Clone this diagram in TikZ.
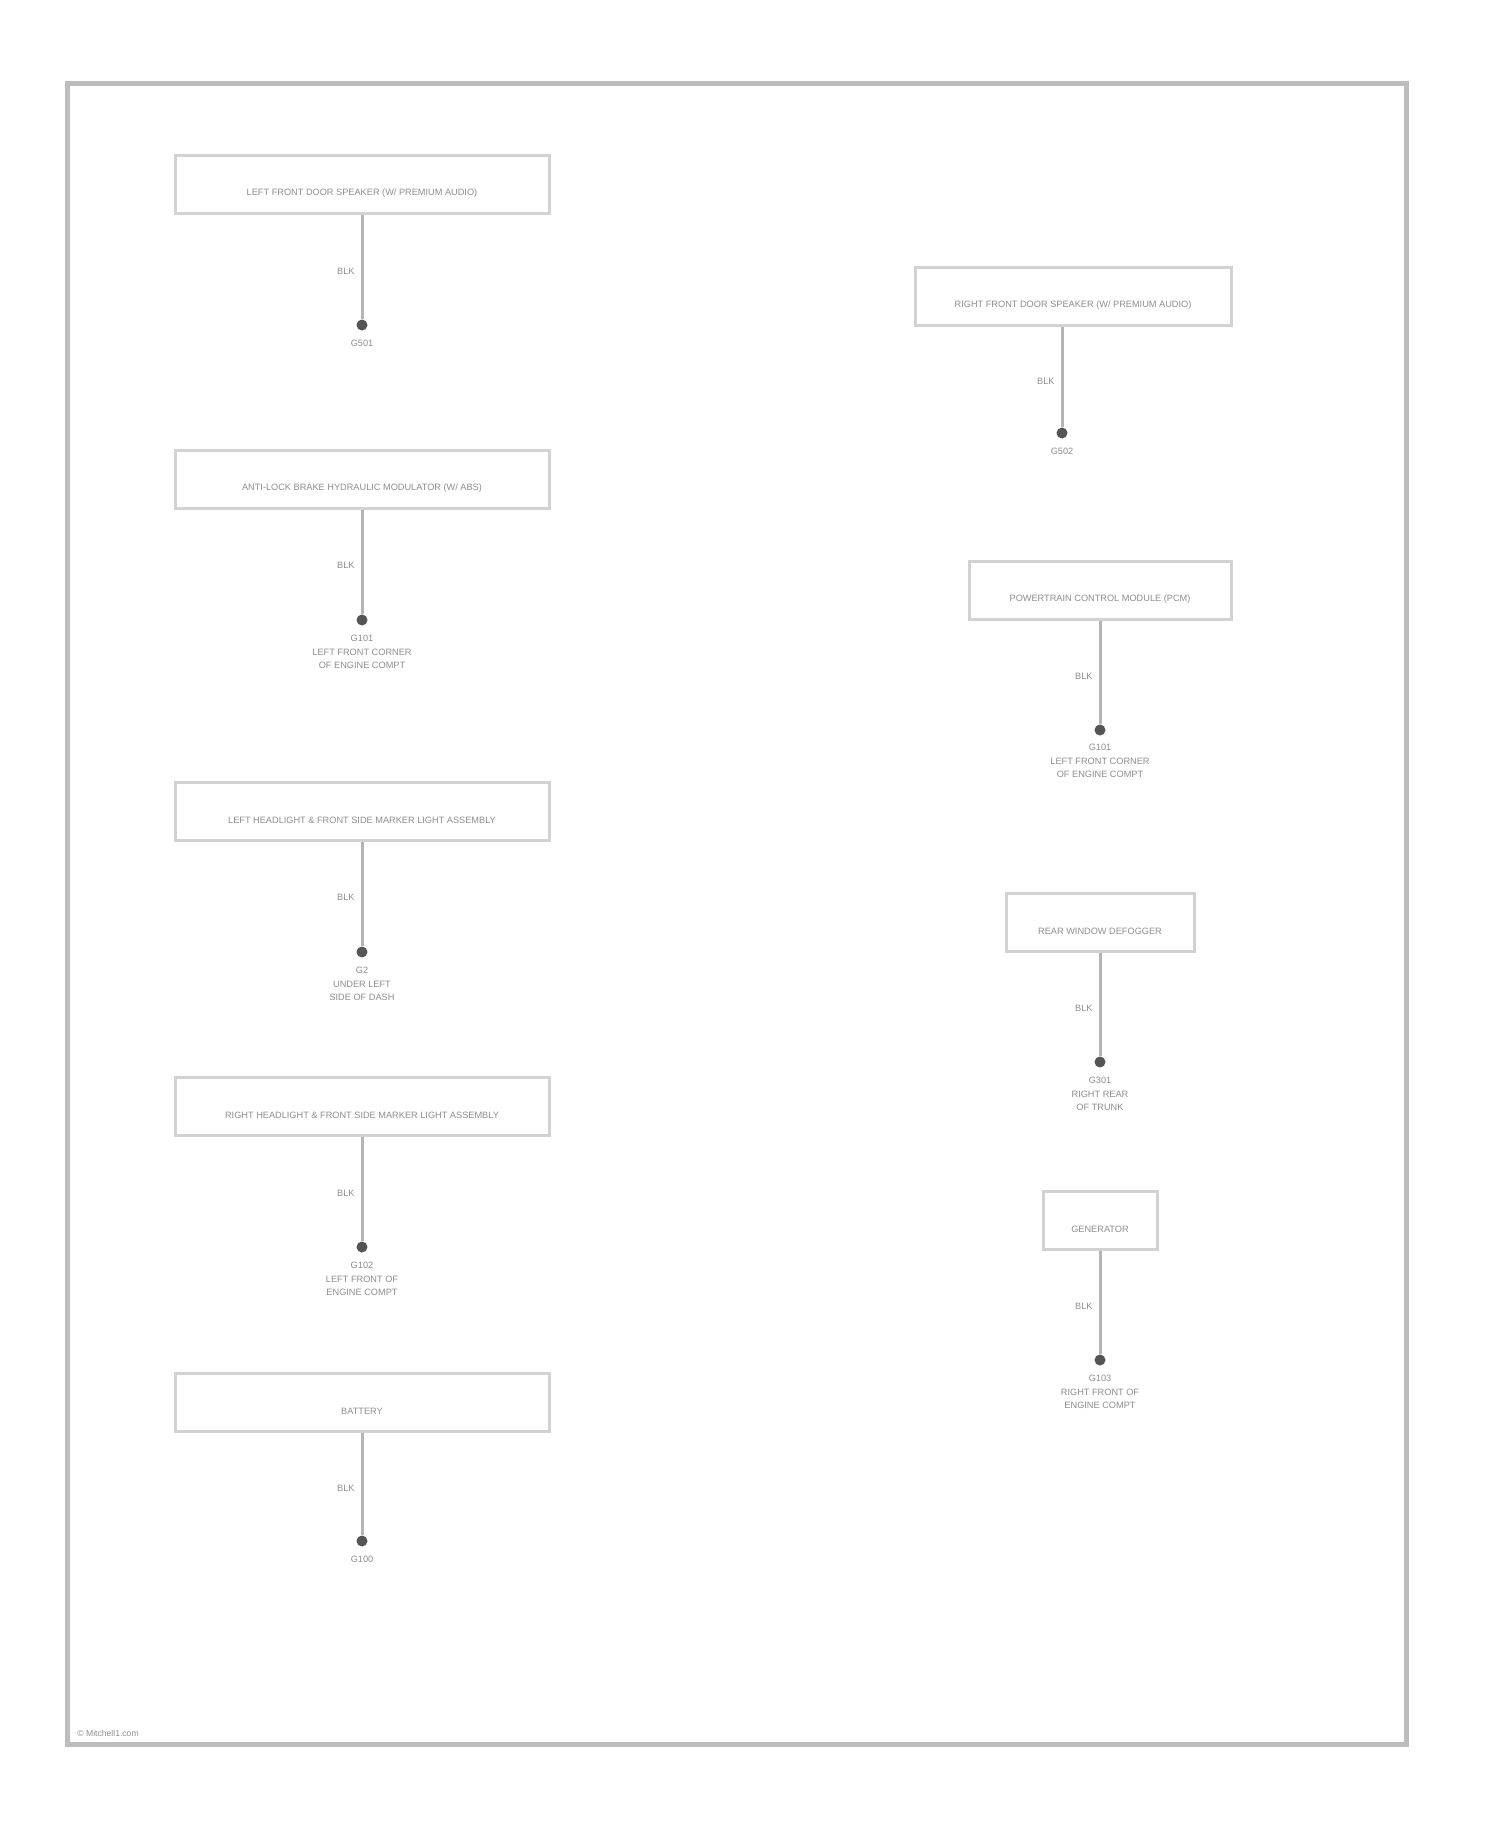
\documentclass[tikz,border=0pt]{standalone}
\usepackage{fontspec}
\setmainfont{Liberation Sans}
\definecolor{framec}{HTML}{BDBDBD}
\definecolor{boxc}{HTML}{D2D2D2}
\definecolor{wirec}{HTML}{B4B4B4}
\definecolor{dotc}{HTML}{555555}
\definecolor{txtc}{HTML}{8E8E8E}
\tikzset{
  compbox/.style={draw=boxc, line width=1.5pt, fill=white, inner sep=0pt, minimum height=29pt},
  comptxt/.style={text=txtc, font=\fontsize{4.6}{5.5}\selectfont, inner sep=0pt},
  wire/.style={draw=wirec, line width=1.5pt},
  gdot/.style={circle, fill=dotc, inner sep=0pt, minimum size=5.5pt},
  wlbl/.style={text=txtc, font=\fontsize{4.6}{5.5}\selectfont, inner sep=0pt, anchor=east},
  glbl/.style={text=txtc, font=\fontsize{4.6}{6.6}\selectfont, inner sep=0pt, anchor=north, align=center},
}
\begin{document}
\begin{tikzpicture}[x=0.5pt, y=-0.5pt]
\useasboundingbox (0,0) rectangle (1500,1828);
\fill[white] (0,0) rectangle (1500,1828);
\draw[framec, line width=2.5pt] (67,83) rectangle (1406,1744);

% ---------- left column ----------
\node[compbox, minimum width=187pt] (l1) at (362,184) {};
\node[comptxt] (l1t) at (362,193) {LEFT FRONT DOOR SPEAKER (W/ PREMIUM AUDIO)};
\node[gdot] (g1) at (362,325) {};
\draw[wire] (l1.south) -- (g1);
\node[wlbl] (w1) at (355,271) {BLK};
\node[glbl] (g1t) at (362,340) {G501};

\node[compbox, minimum width=187pt] (l2) at (362,479) {};
\node[comptxt] (l2t) at (362,488) {ANTI-LOCK BRAKE HYDRAULIC MODULATOR (W/ ABS)};
\node[gdot] (g2) at (362,620) {};
\draw[wire] (l2.south) -- (g2);
\node[wlbl] (w2) at (355,565) {BLK};
\node[glbl] (g2t) at (362,635) {G101\\LEFT FRONT CORNER\\OF ENGINE COMPT};

\node[compbox, minimum width=187pt] (l3) at (362,811) {};
\node[comptxt] (l3t) at (362,820) {LEFT HEADLIGHT \& FRONT SIDE MARKER LIGHT ASSEMBLY};
\node[gdot] (g3) at (362,952) {};
\draw[wire] (l3.south) -- (g3);
\node[wlbl] (w3) at (355,897) {BLK};
\node[glbl] (g3t) at (362,967) {G2\\UNDER LEFT\\SIDE OF DASH};

\node[compbox, minimum width=187pt] (l4) at (362,1106) {};
\node[comptxt] (l4t) at (362,1115) {RIGHT HEADLIGHT \& FRONT SIDE MARKER LIGHT ASSEMBLY};
\node[gdot] (g4) at (362,1247) {};
\draw[wire] (l4.south) -- (g4);
\node[wlbl] (w4) at (355,1193) {BLK};
\node[glbl] (g4t) at (362,1262) {G102\\LEFT FRONT OF\\ENGINE COMPT};

\node[compbox, minimum width=187pt] (l5) at (362,1402) {};
\node[comptxt] (l5t) at (362,1411) {BATTERY};
\node[gdot] (g5) at (362,1541) {};
\draw[wire] (l5.south) -- (g5);
\node[wlbl] (w5) at (355,1488) {BLK};
\node[glbl] (g5t) at (362,1556) {G100};

% ---------- right column ----------
\node[compbox, minimum width=158pt] (r1) at (1073,296) {};
\node[comptxt] (r1t) at (1073,305) {RIGHT FRONT DOOR SPEAKER (W/ PREMIUM AUDIO)};
\node[gdot] (g6) at (1062,433) {};
\draw[wire] (g6 |- r1.south) -- (g6);
\node[wlbl] (w6) at (1055,381) {BLK};
\node[glbl] (g6t) at (1062,448) {G502};

\node[compbox, minimum width=131pt] (r2) at (1100,590) {};
\node[comptxt] (r2t) at (1100,599) {POWERTRAIN CONTROL MODULE (PCM)};
\node[gdot] (g7) at (1100,730) {};
\draw[wire] (r2.south) -- (g7);
\node[wlbl] (w7) at (1093,676) {BLK};
\node[glbl] (g7t) at (1100,744) {G101\\LEFT FRONT CORNER\\OF ENGINE COMPT};

\node[compbox, minimum width=94pt] (r3) at (1100,922) {};
\node[comptxt] (r3t) at (1100,931) {REAR WINDOW DEFOGGER};
\node[gdot] (g8) at (1100,1062) {};
\draw[wire] (r3.south) -- (g8);
\node[wlbl] (w8) at (1093,1008) {BLK};
\node[glbl] (g8t) at (1100,1077) {G301\\RIGHT REAR\\OF TRUNK};

\node[compbox, minimum width=57pt] (r4) at (1100,1220) {};
\node[comptxt] (r4t) at (1100,1229) {GENERATOR};
\node[gdot] (g9) at (1100,1360) {};
\draw[wire] (r4.south) -- (g9);
\node[wlbl] (w9) at (1093,1306) {BLK};
\node[glbl] (g9t) at (1100,1375) {G103\\RIGHT FRONT OF\\ENGINE COMPT};

\node[text=txtc, font=\fontsize{4.3}{5}\selectfont, inner sep=0pt, anchor=west] (copy) at (77,1733) {© Mitchell1.com};
\end{tikzpicture}
\end{document}
